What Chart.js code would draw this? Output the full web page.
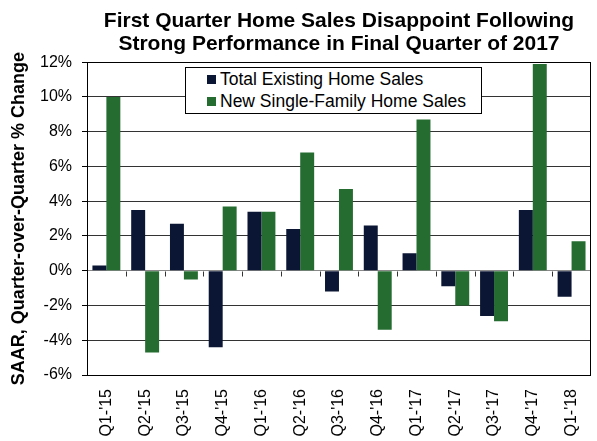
<!DOCTYPE html>
<html>
<head>
<meta charset="utf-8">
<script src="https://cdn.jsdelivr.net/npm/chart.js@4.4.0/dist/chart.umd.min.js"></script>
<style>
    html, body { margin: 0; padding: 0; background: #fff; }
    #wrap { position: relative; width: 597px; height: 441px; }
    #legend {
        position: absolute; left: 185px; top: 67px; width: 295px; height: 45px;
        border: 1px solid #000; background: #fff;
        font-family: "Liberation Sans", Arial, sans-serif; font-size: 17.5px; color: #000;
    }
    #legend div { position: absolute; left: 34px; white-space: nowrap; line-height: 20px; }
    #legend span { position: absolute; left: -13px; width: 9px; height: 9px; }
</style>
</head>
<body>
<div id="wrap">
    <canvas id="chart" width="597" height="441"></canvas>
    <div id="legend">
        <div style="top:1px;"><span style="top:6px;background:#0a1633;"></span>Total Existing Home Sales</div>
        <div style="top:23px;"><span style="top:6px;background:#256c30;"></span>New Single-Family Home Sales</div>
    </div>
</div>
<script>
// quarters on the x axis
const quarters = ["Q1-'15", "Q2-'15", "Q3-'15", "Q4-'15", "Q1-'16", "Q2-'16", "Q3-'16",
    "Q4-'16", "Q1-'17", "Q2-'17", "Q3-'17", "Q4-'17", "Q1-'18"];

// SAAR, quarter-over-quarter % change
const existingSales = [0.3, 3.5, 2.7, -4.4, 3.4, 2.4, -1.2, 2.6, 1.0, -0.9, -2.6, 3.5, -1.5];
const newSingleFamily = [10.0, -4.7, -0.5, 3.7, 3.4, 6.8, 4.7, -3.4, 8.7, -2.0, -2.9, 11.9, 1.7];

const yMin = -6;
const yMax = 12;
const yStep = 2;

const FONT = '"Liberation Sans", Arial, sans-serif';

// frame around the plot and small ticks on the zero line between quarters
const framePlugin = {
    id: 'frame',
    afterDraw(chart) {
        const { ctx, chartArea: a, scales } = chart;
        ctx.save();
        ctx.strokeStyle = '#000';
        ctx.lineWidth = 1;
        ctx.strokeRect(Math.round(a.left) + 0.5, Math.round(a.top) + 0.5,
            Math.round(a.right - a.left) - 1, Math.round(a.bottom - a.top));
        const y0 = Math.round(scales.y.getPixelForValue(0)) + 0.5;
        ctx.strokeStyle = '#333';
        for (let i = 1; i < quarters.length; i++) {
            const x = Math.round((scales.x.getPixelForValue(i - 1) + scales.x.getPixelForValue(i)) / 2) + 0.5;
            ctx.beginPath();
            ctx.moveTo(x, y0);
            ctx.lineTo(x, y0 + 5);
            ctx.stroke();
        }
        ctx.restore();
    }
};

new Chart(document.getElementById('chart'), {
    type: 'bar',
    data: {
        labels: quarters,
        datasets: [
            { label: 'Total Existing Home Sales', data: existingSales, backgroundColor: '#0a1633' },
            { label: 'New Single-Family Home Sales', data: newSingleFamily, backgroundColor: '#256c30' }
        ]
    },
    options: {
        responsive: false,
        animation: false,
        devicePixelRatio: 1,
        layout: { padding: { top: 1, right: 1, left: 0, bottom: 0 } },
        datasets: { bar: { categoryPercentage: 0.72, barPercentage: 1.0 } },
        plugins: {
            legend: { display: false },
            tooltip: { enabled: false },
            title: {
                display: true,
                fullSize: false,
                text: ['First Quarter Home Sales Disappoint Following', 'Strong Performance in Final Quarter of 2017'],
                color: '#000',
                font: { family: FONT, size: 21, weight: 'bold', lineHeight: 1.1 },
                padding: { top: 9, bottom: 6 }
            }
        },
        scales: {
            x: {
                grid: { display: false },
                border: { display: false },
                ticks: {
                    color: '#000',
                    font: { family: FONT, size: 16 },
                    minRotation: 90,
                    maxRotation: 90,
                    padding: 6
                },
                afterFit(scale) { scale.height = 66; }
            },
            y: {
                min: yMin,
                max: yMax,
                border: { display: false },
                grid: {
                    color: ctx => (ctx.tick && ctx.tick.value === 0) ? '#8a8a8a' : '#333',
                    tickLength: 5,
                    tickColor: '#000'
                },
                ticks: {
                    stepSize: yStep,
                    color: '#000',
                    font: { family: FONT, size: 16 },
                    padding: 10,
                    callback: v => v + '%'
                },
                title: {
                    display: true,
                    text: 'SAAR, Quarter-over-Quarter % Change',
                    color: '#000',
                    font: { family: FONT, size: 18, weight: 'bold' },
                    padding: { top: 8, bottom: 0 }
                },
                afterFit(scale) { scale.width = 87; }
            }
        }
    },
    plugins: [framePlugin]
});
</script>
</body>
</html>
